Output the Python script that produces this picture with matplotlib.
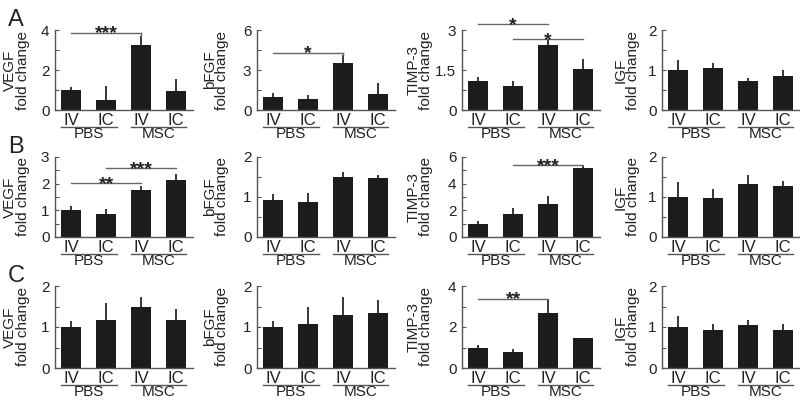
import numpy as np
from matplotlib import pyplot as plt
from matplotlib.transforms import ScaledTranslation

plt.rcParams['font.family'] = ['Liberation Sans', 'DejaVu Sans']

genes = ["VEGF", "bFGF", "TIMP-3", "IGF"]
routes = ["IV", "IC", "IV", "IC"]
treatments = ["PBS", "MSC"]
panels = ["A", "B", "C"]

# fold change, one list per gene, bars in order PBS-IV, PBS-IC, MSC-IV, MSC-IC
a_means = [[1.0, 0.5, 3.25, 0.97], [1.0, 0.85, 3.5, 1.2], [1.1, 0.9, 2.45, 1.55], [1.0, 1.05, 0.72, 0.85]]
a_errs = [[0.15, 0.7, 0.45, 0.6], [0.3, 0.25, 0.6, 0.8], [0.15, 0.2, 0.2, 0.35], [0.25, 0.13, 0.07, 0.15]]
b_means = [[1.0, 0.88, 1.75, 2.15], [0.92, 0.87, 1.5, 1.47], [1.0, 1.75, 2.5, 5.2], [1.0, 0.97, 1.33, 1.27]]
b_errs = [[0.18, 0.17, 0.15, 0.22], [0.15, 0.22, 0.13, 0.08], [0.2, 0.4, 0.55, 0.15], [0.37, 0.22, 0.22, 0.13]]
c_means = [[1.0, 1.18, 1.5, 1.18], [1.0, 1.08, 1.3, 1.35], [1.0, 0.8, 2.7, 1.45], [1.0, 0.93, 1.05, 0.93]]
c_errs = [[0.15, 0.4, 0.22, 0.27], [0.15, 0.42, 0.42, 0.3], [0.1, 0.12, 0.6, 0.03], [0.28, 0.15, 0.12, 0.15]]

a_yticks = [[0, 2, 4], [0, 3, 6], [0, 1.5, 3], [0, 1, 2]]
b_yticks = [[0, 1, 2, 3], [0, 1, 2], [0, 2, 4, 6], [0, 1, 2]]
c_yticks = [[0, 1, 2], [0, 1, 2], [0, 2, 4], [0, 1, 2]]

# (row, col, bar from, bar to, line height, stars, drop down to)
significance = [
    (0, 0, 0, 2, 3.87, "***", 3.7),
    (0, 1, 0, 2, 4.3, "*", 4.1),
    (0, 2, 0, 2, 3.21, "*", None),
    (0, 2, 1, 3, 2.65, "*", None),
    (1, 0, 0, 2, 2.01, "**", None),
    (1, 0, 1, 3, 2.57, "***", None),
    (1, 2, 1, 3, 5.39, "***", None),
    (2, 2, 0, 2, 3.39, "**", None),
]

means = [a_means, b_means, c_means]
errs = [a_errs, b_errs, c_errs]
yticks = [a_yticks, b_yticks, c_yticks]

W, H = 800, 403
col_left = [55, 257, 462, 662]
label_x = [16.5, 216, 419.5, 627]
row_top = [30, 157, 286]
row_zero = [110, 237, 368]
ax_w = 138

text_c = "#222222"
axis_c = "#555555"
bar_c = "#1c1c1c"

fig = plt.figure(figsize=(W / 100, H / 100), dpi=100)
axes = {}
x = np.arange(4)

for r in range(3):
    for c in range(4):
        left = col_left[c] / W
        bottom = 1 - row_zero[r] / H
        height = (row_zero[r] - row_top[r]) / H
        ax = fig.add_axes([left, bottom, ax_w / W, height])
        axes[(r, c)] = ax
        m = means[r][c]
        e = errs[r][c]
        ax.bar(x, m, 0.575, color=bar_c, zorder=2)
        for xi, mi, ei in zip(x, m, e):
            ax.plot([xi, xi], [mi, mi + ei], color="black", lw=1.1, zorder=1,
                    solid_capstyle="butt", clip_on=False)
        yt = yticks[r][c]
        ax.set_xlim(-0.47, 3.49)
        ax.set_ylim(0, yt[-1])
        ax.set_yticks(yt)
        ax.set_yticklabels(["%g" % v for v in yt])
        ax.set_yticks([(a + b) / 2 for a, b in zip(yt[:-1], yt[1:])], minor=True)
        ax.set_xticks(x)
        ax.set_xticklabels(routes)
        ax.tick_params(axis="x", length=0, pad=2, labelsize=12, labelcolor=text_c)
        ax.tick_params(axis="y", which="both", direction="in", length=3, width=0.8,
                       color=axis_c, pad=4, labelsize=11, labelcolor=text_c)
        for s in ["top", "right"]:
            ax.spines[s].set_visible(False)
        for s in ["left", "bottom"]:
            ax.spines[s].set_color(axis_c)
            ax.spines[s].set_linewidth(1.0)
        ax.set_ylabel(genes[c] + "\nfold change", fontsize=11, color=text_c,
                      linespacing=0.85, ha="center", va="center")
        ax.yaxis.set_label_coords(-(col_left[c] - label_x[c]) / ax_w, 0.5)

        # group underline and treatment names
        line_tr = ax.get_xaxis_transform() + ScaledTranslation(0, -17 / 100, fig.dpi_scale_trans)
        text_tr = ax.get_xaxis_transform() + ScaledTranslation(0, -24 / 100, fig.dpi_scale_trans)
        for g, name in enumerate(treatments):
            x0, x1 = x[2 * g] - 0.3, x[2 * g + 1] + 0.3
            ax.plot([x0, x1], [0, 0], color=axis_c, lw=1.0, transform=line_tr, clip_on=False)
            ax.text((x0 + x1) / 2, 0, name, transform=text_tr, ha="center", va="center",
                    fontsize=11, color=text_c)

for r, c, i, j, y, stars, drop in significance:
    ax = axes[(r, c)]
    ax.plot([x[i], x[j]], [y, y], color="#666666", lw=1.0, clip_on=False)
    if drop is not None:
        ax.plot([x[j], x[j]], [y, drop], color="#666666", lw=1.0, clip_on=False)
    ax.annotate(stars, xy=((x[i] + x[j]) / 2, y), xytext=(0, -4), textcoords="offset points",
                ha="center", va="baseline", fontsize=14, fontweight="bold", color=text_c,
                annotation_clip=False)

for r, p in enumerate(panels):
    fig.text(8 / W, 1 - (row_top[r] - 4) / H, p, fontsize=17, color=text_c,
             ha="left", va="baseline")

fig.savefig("out.png", dpi=100)
